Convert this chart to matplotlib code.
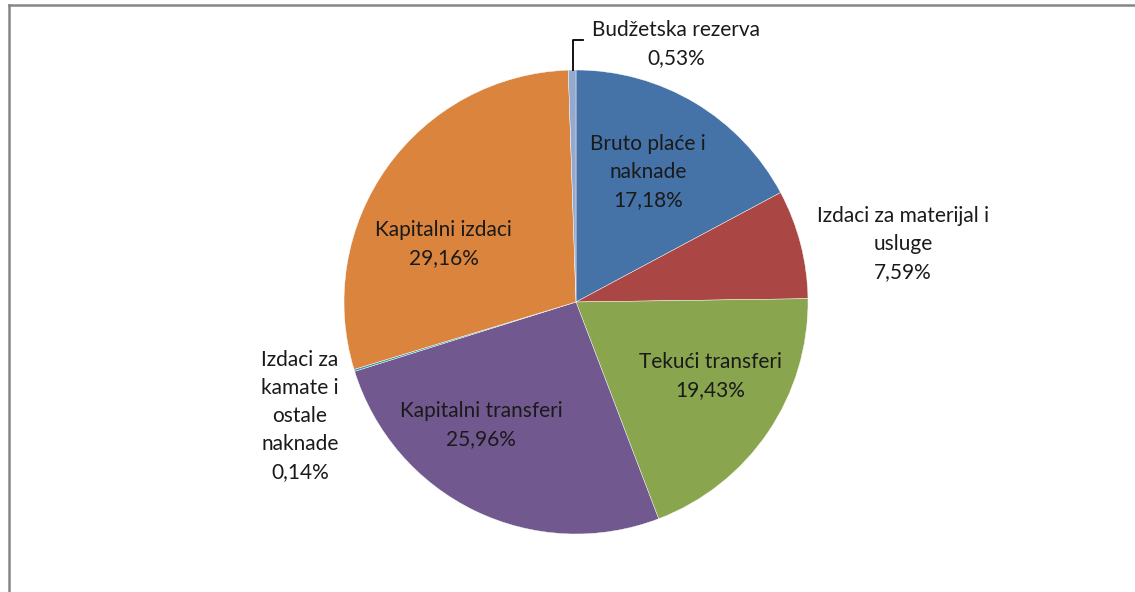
import numpy as np
import matplotlib
matplotlib.use('Agg')
import matplotlib.pyplot as plt
from matplotlib.lines import Line2D

# slices, clockwise from 12 o'clock
names = ['Bruto plaće i\nnaknade', 'Izdaci za materijal i\nusluge', 'Tekući transferi',
         'Kapitalni transferi', 'Izdaci za\nkamate i\nostale\nnaknade', 'Kapitalni izdaci',
         'Budžetska rezerva']
shares = [17.18, 7.59, 19.43, 25.96, 0.14, 29.16, 0.53]
colors = ['#4572A7', '#AA4643', '#89A54E', '#71588F', '#4198AF', '#DB843D', '#93A9CF']

# label positions in pie-radius units (relative to centre)
label_pos = [(0.31, 0.56), (1.41, 0.25), (0.58, -0.32), (-0.41, -0.53),
             (-1.19, -0.49), (-0.57, 0.25), (0.43, 1.11)]

W, H = 1135, 592
cx, cy, R = 576, 302, 232

fig = plt.figure(figsize=(W / 100, H / 100), dpi=100)
ax = fig.add_axes([0, 0, 1, 1])
wedges, _ = ax.pie(shares, colors=colors, startangle=90, counterclock=False,
                   radius=1, wedgeprops=dict(edgecolor='white', linewidth=0.3))
ax.set_xlim(-cx / R, (W - cx) / R)
ax.set_ylim(-(H - cy) / R, cy / R)
ax.set_aspect('equal')
ax.axis('off')

for nm, v, (x, y) in zip(names, shares, label_pos):
    txt = nm + '\n' + ('%.2f' % v).replace('.', ',') + '%'
    ax.text(x, y, txt, ha='center', va='center', fontsize=15, family='Lato',
            color='#1a1a1a', linespacing=1.5)

# leader line for the small slice at the top
ax.plot([-0.013, -0.013, 0.03], [1.0, 1.13, 1.13], color='black', lw=1.3)

# chart frame (only top and left edges are inside the picture)
fr = dict(color='#868686', lw=1.8, transform=fig.transFigure)
fig.lines.append(Line2D([9 / W, 1.0], [1 - 5 / H, 1 - 5 / H], **fr))
fig.lines.append(Line2D([9 / W, 9 / W], [0.0, 1 - 5 / H], **fr))
# cropped title fragment
fig.text(833 / W, 1 + 4 / H, 'g', ha='center', va='baseline', fontsize=15,
         family='Lato', color='black')

fig.savefig('out.png', dpi=100)
